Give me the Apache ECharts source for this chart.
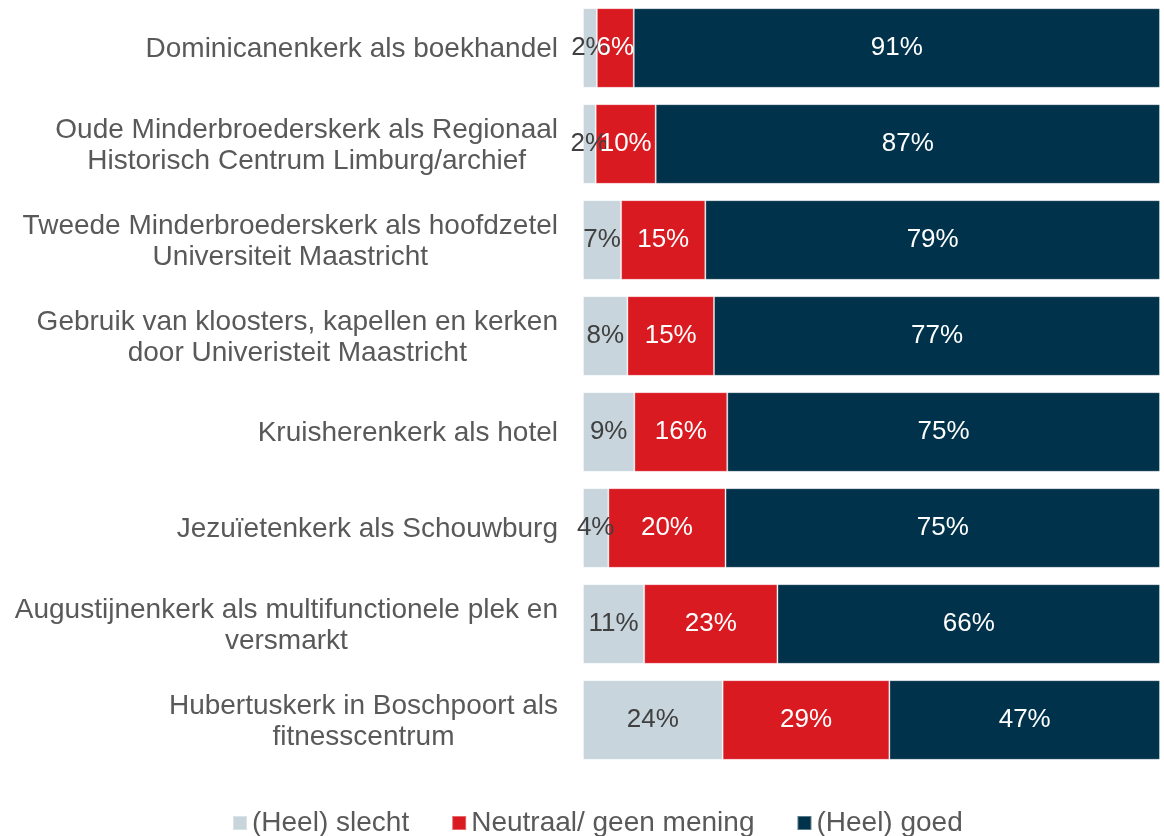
<!DOCTYPE html>
<html>
<head>
<meta charset="utf-8">
<script src="https://cdn.jsdelivr.net/npm/echarts@6/dist/echarts.min.js"></script>
<style>
    html, body { margin: 0; padding: 0; background: #fff; }
    #chart { width: 1164px; height: 836px; }
</style>
</head>
<body>
<div id="chart"></div>
<script>
// categorieën, van boven naar beneden
const categories = [
    'Dominicanenkerk als boekhandel',
    'Oude Minderbroederskerk als Regionaal\nHistorisch Centrum Limburg/archief',
    'Tweede Minderbroederskerk als hoofdzetel\nUniversiteit Maastricht',
    'Gebruik van kloosters, kapellen en kerken\ndoor Univeristeit Maastricht',
    'Kruisherenkerk als hotel',
    'Jezuïetenkerk als Schouwburg',
    'Augustijnenkerk als multifunctionele plek en\nversmarkt',
    'Hubertuskerk in Boschpoort als\nfitnesscentrum'
]
const slecht = [2.4, 2.2, 6.6, 7.7, 8.9, 4.4, 10.6, 24.2]
const neutraal = [6.4, 10.4, 14.6, 15.0, 16.1, 20.3, 23.1, 28.9]
const goed = [91.2, 87.4, 78.8, 77.3, 75.0, 75.3, 66.3, 46.9]
const seriesNames = ['(Heel) slecht', 'Neutraal/ geen mening', '(Heel) goed']

const FONT = 'Liberation Sans, Arial, sans-serif'

let chart = echarts.init(document.getElementById('chart'))

function makeSeries(name, data, color, labelColor) {
    return {
        name: name,
        type: 'bar',
        stack: 'total',
        barCategoryGap: '17%',
        data: data,
        itemStyle: {
            color: color,
            borderColor: 'rgba(255,255,255,0.35)',
            borderWidth: 1
        },
        label: {
            show: true,
            position: 'inside',
            color: labelColor,
            fontSize: 26,
            fontFamily: FONT,
            formatter: p => Math.round(p.value) + '%'
        },
        emphasis: { disabled: true }
    }
}

let option = {
    animation: false,
    grid: {
        left: 583,
        right: 4,
        top: 0,
        bottom: 68
    },
    legend: {
        top: 804,
        left: 227,
        itemWidth: 14,
        itemHeight: 14,
        itemGap: 42,
        icon: 'rect',
        textStyle: {
            color: '#595959',
            fontSize: 28,
            fontFamily: FONT
        },
        data: seriesNames
    },
    xAxis: {
        type: 'value',
        min: 0,
        max: 100,
        show: false
    },
    yAxis: {
        type: 'category',
        inverse: true,
        data: categories,
        axisLine: { show: false },
        axisTick: { show: false },
        axisLabel: {
            margin: 25,
            padding: [3, 0, 0, 0],
            formatter: function (value) {
                return value.split('\n').map(s => '{a|' + s + '}').join('\n')
            },
            rich: {
                a: {
                    align: 'center',
                    color: '#595959',
                    fontSize: 28,
                    lineHeight: 31,
                    fontFamily: FONT
                }
            }
        }
    },
    series: [
        makeSeries(seriesNames[0], slecht, '#C8D5DC', '#404040'),
        makeSeries(seriesNames[1], neutraal, '#D91A21', '#ffffff'),
        makeSeries(seriesNames[2], goed, '#00334B', '#ffffff')
    ]
}
chart.setOption(option)
</script>
</body>
</html>
